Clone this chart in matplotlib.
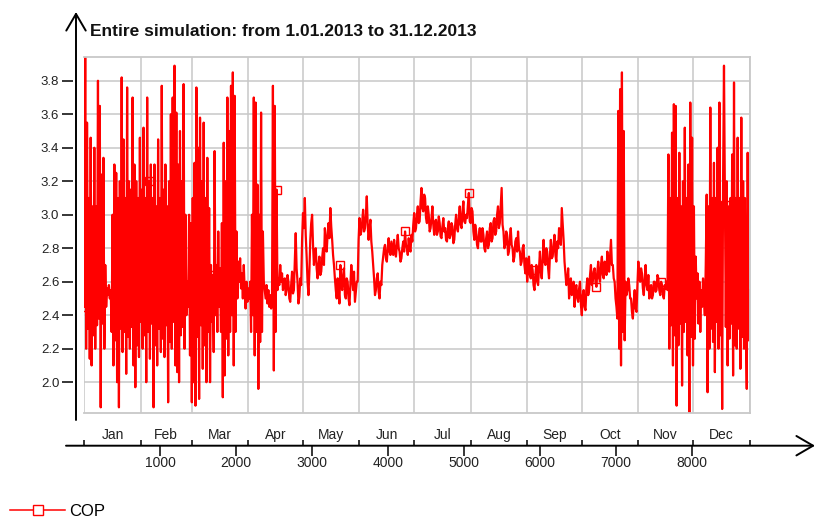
import matplotlib.pyplot as plt
from matplotlib.lines import Line2D
import numpy as np

plt.rcParams['font.family'] = ['Liberation Sans', 'DejaVu Sans']

# COP values (hour of year -> COP)
# winter part: every 12 h from hour 0
start_winter, step_winter = 0, 12
cop_winter = [
    2.45, 3.94, 2.20, 3.55, 2.32, 3.10, 2.14, 3.46, 2.10, 3.05,
    2.28, 3.40, 2.20, 3.05, 2.34, 3.80, 2.38, 3.65, 1.85, 3.24,
    2.35, 3.34, 2.20, 2.70, 2.45, 2.56, 2.52, 2.58, 2.50, 2.55,
    2.30, 3.00, 2.10, 3.30, 2.25, 3.25, 2.00, 3.10, 1.85, 3.20,
    2.32, 3.82, 2.18, 3.45, 2.30, 3.10, 2.05, 3.76, 2.27, 3.20,
    2.20, 3.15, 2.33, 3.70, 2.10, 3.30, 1.97, 3.20, 2.22, 3.10,
    2.15, 3.46, 2.36, 3.15, 2.20, 3.52, 2.28, 3.10, 2.00, 3.70,
    2.30, 3.20, 2.14, 3.30, 2.35, 3.10, 1.85, 3.30, 2.22, 3.05,
    2.10, 3.45, 2.32, 3.10, 2.18, 3.77, 2.26, 3.15, 2.15, 3.30,
    2.34, 3.05, 1.88, 3.20, 2.24, 3.60, 2.20, 3.70, 2.36, 3.89,
    2.10, 3.61, 2.06, 3.30, 2.00, 3.50, 2.28, 3.20, 2.33, 3.78,
    2.20, 3.00, 2.40, 2.60, 2.45, 3.00, 2.16, 2.95, 1.88, 3.10,
    2.00, 3.31, 1.86, 3.76, 2.27, 3.40, 1.90, 3.58, 2.34, 3.20,
    2.08, 3.55, 2.22, 3.10, 2.00, 3.34, 2.30, 3.04, 2.00, 2.70,
    2.36, 2.64, 2.18, 3.38, 2.40, 2.70, 2.30, 2.90, 2.45, 2.68,
    2.30, 2.95, 1.91, 3.43, 2.04, 3.20, 2.26, 3.70, 2.16, 3.50,
    2.30, 3.77, 2.40, 3.85, 2.10, 3.71, 2.30, 2.90, 2.50, 2.72,
    2.60, 2.74, 2.56, 2.65, 2.50, 2.70, 2.55, 2.44, 2.60, 2.48,
    2.56, 2.50, 2.60, 2.30, 3.00, 2.40, 3.70, 2.16, 3.67, 2.30,
    3.18, 1.96, 3.00, 2.24, 3.61, 2.30, 2.90, 2.60, 2.55, 2.50,
    2.58, 2.47, 2.55, 2.45, 2.52, 2.44, 2.50, 3.77, 2.07, 3.65,
    2.30, 3.15, 2.55, 2.62, 2.58, 2.70, 2.60, 2.65, 2.55, 2.60,
]
# summer part: every 12 h from hour 2640
start_summer, step_summer = 2640, 12
cop_summer = [
    2.62, 2.52, 2.55, 2.64, 2.60, 2.50, 2.48, 2.58, 2.66, 2.53,
    2.55, 2.72, 2.89, 2.68, 2.60, 2.47, 2.51, 2.62, 2.58, 2.85,
    3.01, 2.92, 3.10, 2.88, 2.75, 2.60, 2.52, 2.66, 2.85, 2.95,
    3.00, 2.82, 2.70, 2.78, 2.80, 2.68, 2.62, 2.70, 2.75, 2.64,
    2.66, 2.74, 2.80, 2.70, 2.92, 2.84, 2.78, 2.88, 2.95, 2.86,
    3.04, 2.93, 2.85, 2.76, 2.70, 2.62, 2.55, 2.50, 2.62, 2.56,
    2.47, 2.70, 2.58, 2.55, 2.64, 2.68, 2.52, 2.50, 2.62, 2.60,
    2.50, 2.46, 2.58, 2.70, 2.62, 2.55, 2.66, 2.48, 2.54, 2.60,
    2.60, 2.85, 2.98, 2.88, 2.90, 2.96, 3.03, 2.90, 2.92, 3.00,
    3.11, 2.94, 2.85, 2.92, 2.97, 2.84, 2.78, 2.70, 2.62, 2.52,
    2.55, 2.62, 2.65, 2.54, 2.50, 2.60, 2.58, 2.70, 2.75, 2.80,
    2.82, 2.74, 2.72, 2.80, 2.86, 2.78, 2.76, 2.84, 2.80, 2.76,
    2.85, 2.78, 2.75, 2.82, 2.88, 2.80, 2.78, 2.72, 2.74, 2.80,
    2.84, 2.78, 2.90, 2.82, 2.80, 2.76, 2.86, 2.80, 2.78, 2.88,
    2.84, 2.94, 3.01, 2.90, 2.92, 3.00, 3.05, 2.95, 2.96, 3.08,
    3.16, 3.04, 3.02, 3.12, 3.10, 2.98, 2.95, 3.05, 3.00, 2.90,
    2.92, 2.98, 3.05, 2.94, 2.88, 2.96, 2.97, 2.88, 2.90, 2.99,
    2.95, 2.87, 2.86, 2.93, 2.98, 2.90, 2.92, 2.85, 2.84, 2.92,
    2.96, 2.86, 2.88, 2.95, 2.93, 2.83, 2.85, 2.94, 3.00, 2.92,
    2.90, 2.98, 3.05, 2.94, 2.92, 3.02, 3.08, 2.96, 2.95, 3.00,
    2.98, 3.06, 3.13, 2.96, 2.95, 3.04, 3.02, 2.90, 2.85, 2.94,
    2.90, 2.82, 2.80, 2.88, 2.92, 2.84, 2.84, 2.92, 2.88, 2.80,
    2.78, 2.86, 2.90, 2.80, 2.82, 2.92, 2.95, 2.84, 2.86, 2.96,
    2.98, 2.88, 2.90, 3.00, 3.05, 2.92, 2.95, 3.06, 3.16, 2.94,
    2.90, 2.80, 2.82, 2.90, 2.88, 2.76, 2.78, 2.86, 2.92, 2.82,
    2.80, 2.72, 2.75, 2.84, 2.86, 2.78, 2.90, 2.80, 2.78, 2.70,
    2.72, 2.80, 2.82, 2.70, 2.65, 2.74, 2.60, 2.68, 2.75, 2.64,
    2.62, 2.70, 2.67, 2.58, 2.55, 2.64, 2.70, 2.60, 2.58, 2.68,
    2.78, 2.66, 2.62, 2.74, 2.85, 2.72, 2.70, 2.80, 2.78, 2.68,
    2.62, 2.76, 2.85, 2.74, 2.75, 2.82, 2.88, 2.76, 2.72, 2.84,
    2.80, 2.92, 2.90, 2.82, 3.04, 2.94, 2.85, 2.72, 2.65, 2.58,
    2.60, 2.68, 2.50, 2.58, 2.62, 2.52, 2.55, 2.60, 2.45, 2.56,
    2.58, 2.50, 2.48, 2.56, 2.60, 2.46, 2.40, 2.52, 2.55, 2.45,
    2.43, 2.56, 2.62, 2.52, 2.55, 2.64, 2.70, 2.58, 2.60, 2.66,
    2.68, 2.60, 2.57, 2.66, 2.72, 2.62, 2.60, 2.70, 2.75, 2.64,
    2.62, 2.72, 2.70, 2.64, 2.78, 2.68, 2.66, 2.76, 2.85, 2.70,
    2.70, 2.62, 2.60, 2.50, 2.45, 2.38, 3.62, 2.20, 3.75, 2.10,
    3.85, 2.30, 3.50, 2.25, 2.60, 2.52, 2.55, 2.62, 2.58, 2.50,
    2.50, 2.42, 2.38, 2.48, 2.55, 2.44, 2.42, 2.58, 2.72, 2.62,
    2.60, 2.68, 2.65, 2.56, 2.52, 2.62, 2.70, 2.58, 2.55, 2.64,
    2.50, 2.56, 2.58, 2.50, 2.52, 2.60, 2.60, 2.54, 2.55, 2.64,
    2.62, 2.55, 2.52, 2.60, 2.58, 2.52, 2.50, 2.58, 2.56, 2.60,
]
# late autumn / winter part: every 12 h from hour 7680
start_late, step_late = 7680, 12
cop_late = [
    2.55, 3.36, 2.20, 3.10, 2.34, 3.49, 2.10, 3.66, 2.28, 3.65,
    1.86, 3.10, 2.22, 3.37, 2.35, 3.05, 1.98, 3.20, 2.30, 3.52,
    2.36, 3.10, 2.16, 3.30, 1.81, 3.67, 2.27, 3.46, 2.10, 3.05,
    2.26, 2.75, 2.50, 2.65, 2.35, 2.60, 2.30, 2.55, 2.45, 2.62,
    2.50, 2.40, 2.70, 3.12, 1.94, 3.05, 2.20, 3.64, 2.32, 3.10,
    2.24, 3.31, 2.06, 3.10, 2.36, 3.40, 2.20, 3.67, 2.28, 3.05,
    1.84, 3.20, 3.89, 3.06, 2.33, 3.20, 2.10, 3.05, 2.26, 3.10,
    2.35, 3.36, 2.04, 3.79, 2.22, 3.10, 2.20, 3.46, 2.32, 3.10,
    2.08, 3.58, 2.27, 3.20, 2.20, 3.10, 2.34, 1.96, 3.37, 2.25,
    2.55,
]

months = ['Jan', 'Feb', 'Mar', 'Apr', 'May', 'Jun',
          'Jul', 'Aug', 'Sep', 'Oct', 'Nov', 'Dec']
month_days = [31, 28, 31, 30, 31, 30, 31, 31, 30, 31, 30, 31]
y_ticks = [2.0, 2.2, 2.4, 2.6, 2.8, 3.0, 3.2, 3.4, 3.6, 3.8]
x_ticks = [1000, 2000, 3000, 4000, 5000, 6000, 7000, 8000]
title = 'Entire simulation: from 1.01.2013 to 31.12.2013'

# assemble the series
hours = np.concatenate([
    start_winter + step_winter * np.arange(len(cop_winter)),
    start_summer + step_summer * np.arange(len(cop_summer)),
    start_late + step_late * np.arange(len(cop_late)),
])
cop = np.concatenate([cop_winter, cop_summer, cop_late])

month_edges = np.concatenate([[0], np.cumsum(month_days)]) * 24
month_mids = (month_edges[:-1] + month_edges[1:]) / 2

W, H = 817, 520
fig = plt.figure(figsize=(W / 100, H / 100), dpi=100)

# plot area (pixel layout of the reference)
left, right, top, bottom = 84.3, 749.5, 57.3, 412.7
ax = fig.add_axes([left / W, 1 - bottom / H, (right - left) / W, (bottom - top) / H])

grid_col = '#c8c8c8'
ax.set_xlim(0, 8760)
ax.set_ylim(1.818, 3.94)
ax.set_xticks(month_edges)
ax.set_yticks(y_ticks)
ax.set_yticklabels([f'{v:.1f}' for v in y_ticks])
ax.grid(True, color=grid_col, linewidth=1.1)
ax.set_axisbelow(True)
for side in ['top', 'right', 'bottom']:
    ax.spines[side].set_color(grid_col)
    ax.spines[side].set_linewidth(1.3)
ax.spines['left'].set_position(('outward', 8))
ax.spines['left'].set_color('none')
ax.tick_params(axis='x', length=0, labelbottom=False)
ax.tick_params(axis='y', direction='out', length=8, width=1.1, color='black',
               pad=2, labelsize=9.5, labelcolor='#222222')

ax.plot(hours, cop, color='#ff0000', linewidth=1.6,
        marker='s', markersize=6, markerfacecolor='none',
        markeredgecolor='#ff0000', markeredgewidth=1.0,
        markevery=list(np.searchsorted(hours, np.arange(0, 8760, 843))))

# separate time axis below the plot
x_axis_y = 445.7
axx = fig.add_axes([left / W, 1 - x_axis_y / H, (right - left) / W, 0.0001])
axx.set_xlim(0, 8760)
axx.set_yticks([])
for side in axx.spines:
    axx.spines[side].set_visible(False)
axx.patch.set_alpha(0)
axx.set_xticks(x_ticks)
axx.set_xticklabels([str(v) for v in x_ticks])
axx.set_xticks(month_edges, minor=True)
axx.tick_params(axis='x', which='major', direction='out', length=7, width=1.1,
                pad=0.5, labelsize=10, labelcolor='#222222')
axx.tick_params(axis='x', which='minor', direction='in', length=4, width=1.1)
for name, mid in zip(months, month_mids):
    axx.annotate(name, (mid, 0), xycoords=axx.get_xaxis_transform(),
                 xytext=(0, 2.5), textcoords='offset points',
                 ha='center', va='bottom', fontsize=10, color='#222222')

# axis lines with arrow heads
arrow = dict(arrowstyle='->,head_length=0.6,head_width=0.35', color='black',
             linewidth=1.4, mutation_scale=20, shrinkA=0, shrinkB=0)
fig.add_artist(plt.Annotation('', xy=(815, H - x_axis_y), xytext=(66, H - x_axis_y),
                              xycoords='figure pixels', textcoords='figure pixels',
                              arrowprops=arrow))
fig.add_artist(plt.Annotation('', xy=(76, H - 12), xytext=(76, H - 420),
                              xycoords='figure pixels', textcoords='figure pixels',
                              arrowprops=arrow))

fig.text(90 / W, 1 - 31.5 / H, title, ha='left', va='center',
         fontsize=12.5, fontweight='bold', color='#111111')

legend_handle = Line2D([], [], color='#ff0000', linewidth=1.1, marker='s',
                       markersize=7, markerfacecolor='white',
                       markeredgecolor='#ff0000', markeredgewidth=1.0)
fig.legend([legend_handle], ['COP'], loc='center left', bbox_to_anchor=(10 / W, 9 / H),
           frameon=False, borderpad=0, borderaxespad=0, handlelength=3.3,
           handletextpad=0.25, fontsize=12)

fig.savefig('out.png', dpi=100)
